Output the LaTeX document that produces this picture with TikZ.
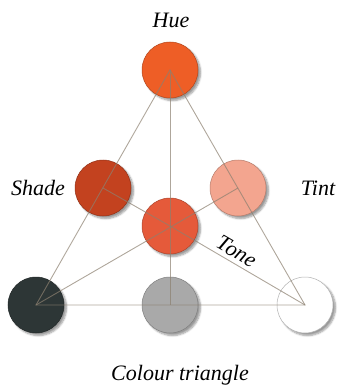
\documentclass[tikz,border=0pt]{standalone}
\usepackage{fontspec}
\setmainfont{Liberation Serif}
\usetikzlibrary{shadows.blur}
\definecolor{huecol}{HTML}{EE5E26}
\definecolor{shadecol}{HTML}{C3421F}
\definecolor{tintcol}{HTML}{F3A58F}
\definecolor{tonecol}{HTML}{E55A3A}
\definecolor{darkcol}{HTML}{2D3636}
\definecolor{greycol}{HTML}{A9A9A9}
\definecolor{linecol}{HTML}{8C8070}
\begin{document}
\begin{tikzpicture}[x=1pt,y=-1pt,
  swatch/.style={circle,minimum size=56pt,inner sep=0pt,fill=#1,draw=#1!75!black,line width=0.5pt,
    blur shadow={shadow xshift=2.5pt,shadow yshift=-2.5pt,shadow blur steps=6,shadow opacity=40}},
  guide/.style={draw=linecol,line width=0.9pt,draw opacity=0.7},
  every node/.style={font=\fontsize{22}{24}\selectfont\itshape}]
  \useasboundingbox (0,0) rectangle (341,390);
  % swatches
  \node[swatch=huecol] (hue) at (170,70) {};
  \node[swatch=shadecol] (shade) at (103,188) {};
  \node[swatch=tintcol] (tint) at (238,188) {};
  \node[swatch=tonecol] (tone) at (170,226) {};
  \node[swatch=darkcol] (dark) at (36,305) {};
  \node[swatch=greycol] (grey) at (170,305) {};
  \node[swatch=white,draw=black!30] (white) at (305,305) {};
  % labels
  \node (huelabel) at (171,20) {Hue};
  \node (shadelabel) at (38,188) {Shade};
  \node (tintlabel) at (318,188) {Tint};
  \node (caption) at (180,375) {Colour triangle};
  % triangle and medians
  \draw[guide] (hue.center) -- (dark.center) -- (white.center) -- cycle;
  \draw[guide] (hue.center) -- (grey.center);
  \draw[guide] (dark.center) -- (tint.center);
  \draw[guide] (shade.center) -- (tone.center);
  \draw[guide] (tone.center) -- node[sloped,above,pos=0.45,inner sep=4pt] {Tone} (white.center);
\end{tikzpicture}
\end{document}
